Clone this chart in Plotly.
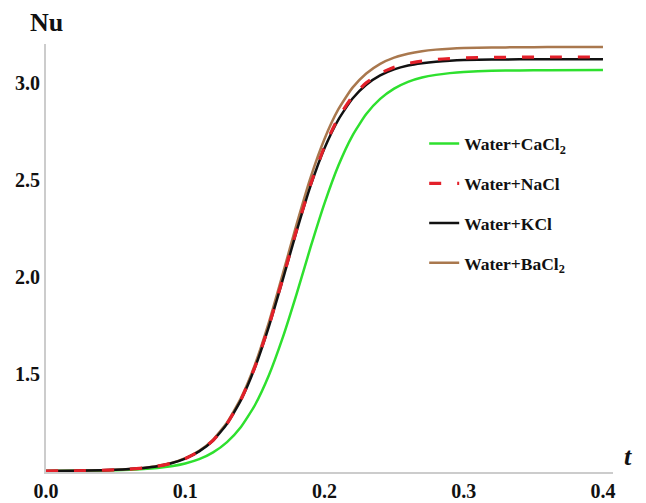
import plotly.graph_objects as go

# Time samples (dimensionless t)
t = [0.00, 0.02, 0.04, 0.05, 0.06, 0.07, 0.08, 0.09, 0.10, 0.11, 0.12, 0.13, 0.14,
     0.15, 0.16, 0.17, 0.18, 0.19, 0.20, 0.21, 0.22, 0.23, 0.24, 0.25, 0.26, 0.27,
     0.28, 0.29, 0.30, 0.32, 0.34, 0.36, 0.40]

# Nusselt number for each brine
nu_cacl2 = [1.000, 1.001, 1.002, 1.004, 1.006, 1.010, 1.016, 1.025, 1.039, 1.061, 1.096, 1.149, 1.227,
            1.339, 1.492, 1.687, 1.913, 2.153, 2.379, 2.574, 2.727, 2.839, 2.917, 2.970, 3.005, 3.027,
            3.041, 3.050, 3.056, 3.062, 3.064, 3.065, 3.066]
nu_nacl = [1.000, 1.001, 1.004, 1.006, 1.010, 1.016, 1.025, 1.040, 1.064, 1.101, 1.158, 1.244, 1.367,
           1.535, 1.747, 1.990, 2.243, 2.476, 2.671, 2.821, 2.928, 3.000, 3.049, 3.080, 3.100, 3.112,
           3.120, 3.125, 3.128, 3.131, 3.132, 3.133, 3.133]
nu_kcl = [1.000, 1.001, 1.004, 1.006, 1.010, 1.016, 1.025, 1.040, 1.064, 1.101, 1.157, 1.243, 1.365,
          1.532, 1.743, 1.985, 2.236, 2.469, 2.663, 2.811, 2.918, 2.990, 3.038, 3.069, 3.089, 3.101,
          3.109, 3.114, 3.117, 3.120, 3.121, 3.122, 3.122]
nu_bacl2 = [1.000, 1.001, 1.004, 1.006, 1.010, 1.016, 1.026, 1.041, 1.066, 1.104, 1.162, 1.250, 1.376,
            1.547, 1.764, 2.014, 2.272, 2.512, 2.711, 2.864, 2.974, 3.048, 3.098, 3.130, 3.150, 3.163,
            3.171, 3.176, 3.179, 3.182, 3.183, 3.184, 3.184]

x_ticks = [0.0, 0.1, 0.2, 0.3, 0.4]
y_ticks = [1.5, 2.0, 2.5, 3.0]

SERIF = "Liberation Serif, Times New Roman, serif"

fig = go.Figure()

series = [
    # (name, values, color, width, dash, legend rank)
    ("Water+CaCl<sub>2</sub>", nu_cacl2, "#2ee02e", 2.5, "solid", 1),
    ("Water+BaCl<sub>2</sub>", nu_bacl2, "#a9784e", 2.5, "solid", 4),
    ("Water+KCl", nu_kcl, "#111111", 2.5, "solid", 3),
    ("Water+NaCl", nu_nacl, "#e3202a", 3.2, "12px,16px", 2),
]

for name, vals, color, width, dash, rank in series:
    fig.add_trace(go.Scatter(
        x=t, y=vals, mode="lines", name=name,
        line=dict(color=color, width=width, dash=dash, shape="spline", smoothing=0.5),
        legendrank=rank, legendgroup=f"g{rank}",
    ))

axis_font = dict(family=SERIF, size=20, color="#111111", weight="bold")

fig.update_layout(
    width=646, height=503,
    margin=dict(l=46, r=33, t=44, b=31),
    paper_bgcolor="white", plot_bgcolor="white",
    font=dict(family=SERIF, color="#111111"),
    showlegend=True,
    legend=dict(
        x=0.667, y=0.809, xanchor="left", yanchor="top",
        bgcolor="rgba(0,0,0,0)", traceorder="grouped", tracegroupgap=14,
        font=dict(family=SERIF, size=17.5, color="#111111", weight="bold"),
    ),
    xaxis=dict(
        range=[0, 0.4072], showgrid=False, zeroline=False, automargin=False,
        showline=True, linecolor="#cccccc", linewidth=2, layer="below traces",
        ticks="", tickvals=x_ticks, tickformat=".1f",
        tickfont=axis_font,
    ),
    yaxis=dict(
        range=[0.995, 3.2], showgrid=False, zeroline=False, automargin=False,
        showline=True, linecolor="#cccccc", linewidth=2, layer="below traces",
        ticks="", tickvals=y_ticks, tickformat=".1f",
        tickfont=axis_font,
    ),
    annotations=[
        dict(text="<b>Nu</b>", xref="paper", yref="paper", x=0.0, y=1.051,
             xanchor="center", yanchor="middle", showarrow=False,
             font=dict(family=SERIF, size=26, color="#111111")),
        dict(text="<b><i>t</i></b>", xref="paper", yref="paper", x=1.027, y=0.036,
             xanchor="center", yanchor="middle", showarrow=False,
             font=dict(family=SERIF, size=26, color="#111111")),
    ],
)

fig.write_html("out.html")
